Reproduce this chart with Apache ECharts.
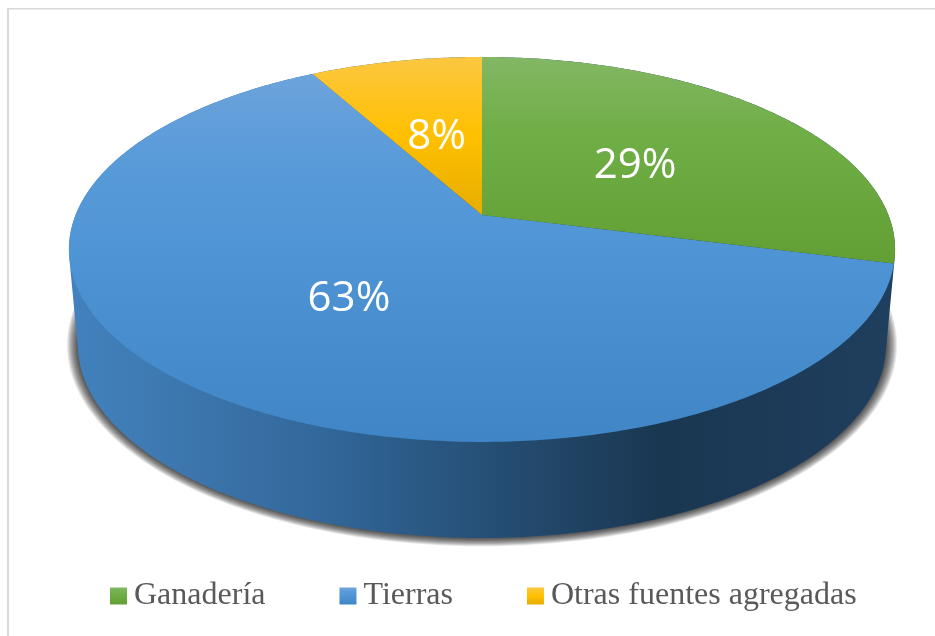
<!DOCTYPE html>
<html>
<head>
<meta charset="utf-8">
<style>
html, body { margin: 0; padding: 0; background: #fff; }
#chart { width: 935px; height: 636px; }
</style>
<script src="https://cdn.jsdelivr.net/npm/echarts@6/dist/echarts.min.js"></script>
</head>
<body>
<div id="chart"></div>
<script>
const categories = ['Ganadería', 'Tierras', 'Otras fuentes agregadas'];
const percents = [29, 63, 8];

const sliceStops = [
    [[0, '#83b764'], [0.36, '#70ae47'], [1, '#62a035']],
    [[0, '#71a5dc'], [0.25, '#5a9bd9'], [0.5, '#4f95d5'], [1, '#4085c6']],
    [[0, '#fcc741'], [0.5, '#ffc000'], [1, '#e6ad00']]
];
const sliceSpans = [[57, 261], [57, 442], [57, 215]];
const wallStops = [
    [0, '#4281bd'], [0.15, '#3c75ac'], [0.3, '#32689b'], [0.5, '#265077'],
    [0.72, '#1a3751'], [0.88, '#1d3b58'], [1, '#1f3f5e']
];

// the pie is a disc seen in perspective: the centre is not the middle of the ellipse
const apex = [482, 215];
const A = 406.4, B = 186.3, K = 0.179;
const base = { cx: 482, cy: 345, rx: 404, ry: 193 };

function project(r, theta) {
    const u = r * Math.sin(theta), v = r * Math.cos(theta);
    const d = 1 + K * v;
    return [apex[0] + A * u / d, apex[1] - B * v / d];
}

function rimPoints(from, to) {
    const n = Math.max(2, Math.ceil((to - from) * 90));
    const pts = [];
    for (let i = 0; i <= n; i++) {
        pts.push(project(1, from + (to - from) * i / n));
    }
    return pts;
}

function basePoints(growX, growY) {
    const pts = [];
    for (let i = 0; i < 360; i++) {
        const a = i * Math.PI / 180;
        pts.push([base.cx + (base.rx + growX) * Math.cos(a), base.cy + (base.ry + growY) * Math.sin(a)]);
    }
    return pts;
}

function convexHull(points) {
    const pts = points.slice().sort((a, b) => a[0] - b[0] || a[1] - b[1]);
    const cross = (o, a, b) => (a[0] - o[0]) * (b[1] - o[1]) - (a[1] - o[1]) * (b[0] - o[0]);
    const half = list => {
        const out = [];
        for (const p of list) {
            while (out.length > 1 && cross(out[out.length - 2], out[out.length - 1], p) <= 0) out.pop();
            out.push(p);
        }
        out.pop();
        return out;
    };
    return half(pts).concat(half(pts.reverse()));
}

const total = percents.reduce((a, b) => a + b, 0);
let running = 0;
const sliceAngles = percents.map(p => {
    const start = running / total * 2 * Math.PI;
    running += p;
    return [start, running / total * 2 * Math.PI];
});

function vertical(i) {
    return new echarts.graphic.LinearGradient(0, sliceSpans[i][0], 0, sliceSpans[i][1],
        sliceStops[i].map(s => ({ offset: s[0], color: s[1] })), true);
}

function renderSlice(i) {
    return function (params, api) {
        const value = api.value(0);
        const [from, to] = sliceAngles[i];
        const children = [];
        if (i === 1) {
            // soft shadow: stacked translucent rings, then the wall under Tierras
            const rim = rimPoints(0, 2 * Math.PI);
            for (let g = 11; g >= 1; g--) {
                children.push({
                    type: 'polygon',
                    shape: { points: basePoints(g, g * 0.75) },
                    style: { fill: 'rgba(0,0,0,0.085)' }
                });
            }
            children.push({
                type: 'polygon',
                shape: { points: convexHull(rim.concat(basePoints(0, 0))) },
                style: {
                    fill: new echarts.graphic.LinearGradient(75, 0, 888, 0,
                        wallStops.map(s => ({ offset: s[0], color: s[1] })), true)
                }
            });
        }
        children.push({
            type: 'polygon',
            shape: { points: [apex].concat(rimPoints(from, to)) },
            style: { fill: vertical(i) }
        });
        const mid = project(0.5, (from + to) / 2);
        children.push({
            type: 'text',
            z2: 10,
            style: {
                text: value + '%',
                x: mid[0] + 1,
                y: mid[1] + 5,
                align: 'center',
                verticalAlign: 'middle',
                fill: '#fff',
                font: '42px "Open Sans"'
            }
        });
        return { type: 'group', children: children };
    };
}

const chart = echarts.init(document.getElementById('chart'));
chart.setOption({
    backgroundColor: '#fff',
    animation: false,
    graphic: [
        { type: 'rect', shape: { x: 7, y: 8, width: 928, height: 1.5 }, style: { fill: '#d9d9d9' } },
        { type: 'rect', shape: { x: 7, y: 8, width: 2, height: 628 }, style: { fill: '#d9d9d9' } }
    ],
    legend: {
        left: 110,
        top: 580,
        padding: 0,
        itemGap: 74,
        itemWidth: 17,
        itemHeight: 17,
        textStyle: { fontFamily: 'Liberation Serif', fontSize: 32, color: '#595959', padding: [0, 0, 0, 2] },
        data: categories.map((name, i) => ({
            name: name,
            icon: 'rect',
            itemStyle: {
                color: new echarts.graphic.LinearGradient(0, 0, 0, 1,
                    sliceStops[i].map(s => ({ offset: s[0], color: s[1] })))
            }
        }))
    },
    series: [1, 0, 2].map(i => ({
        type: 'custom',
        name: categories[i],
        coordinateSystem: 'none',
        silent: true,
        renderItem: renderSlice(i),
        data: [[percents[i]]]
    }))
});
window.addEventListener('resize', function () {
    chart.resize();
});
</script>
</body>
</html>
